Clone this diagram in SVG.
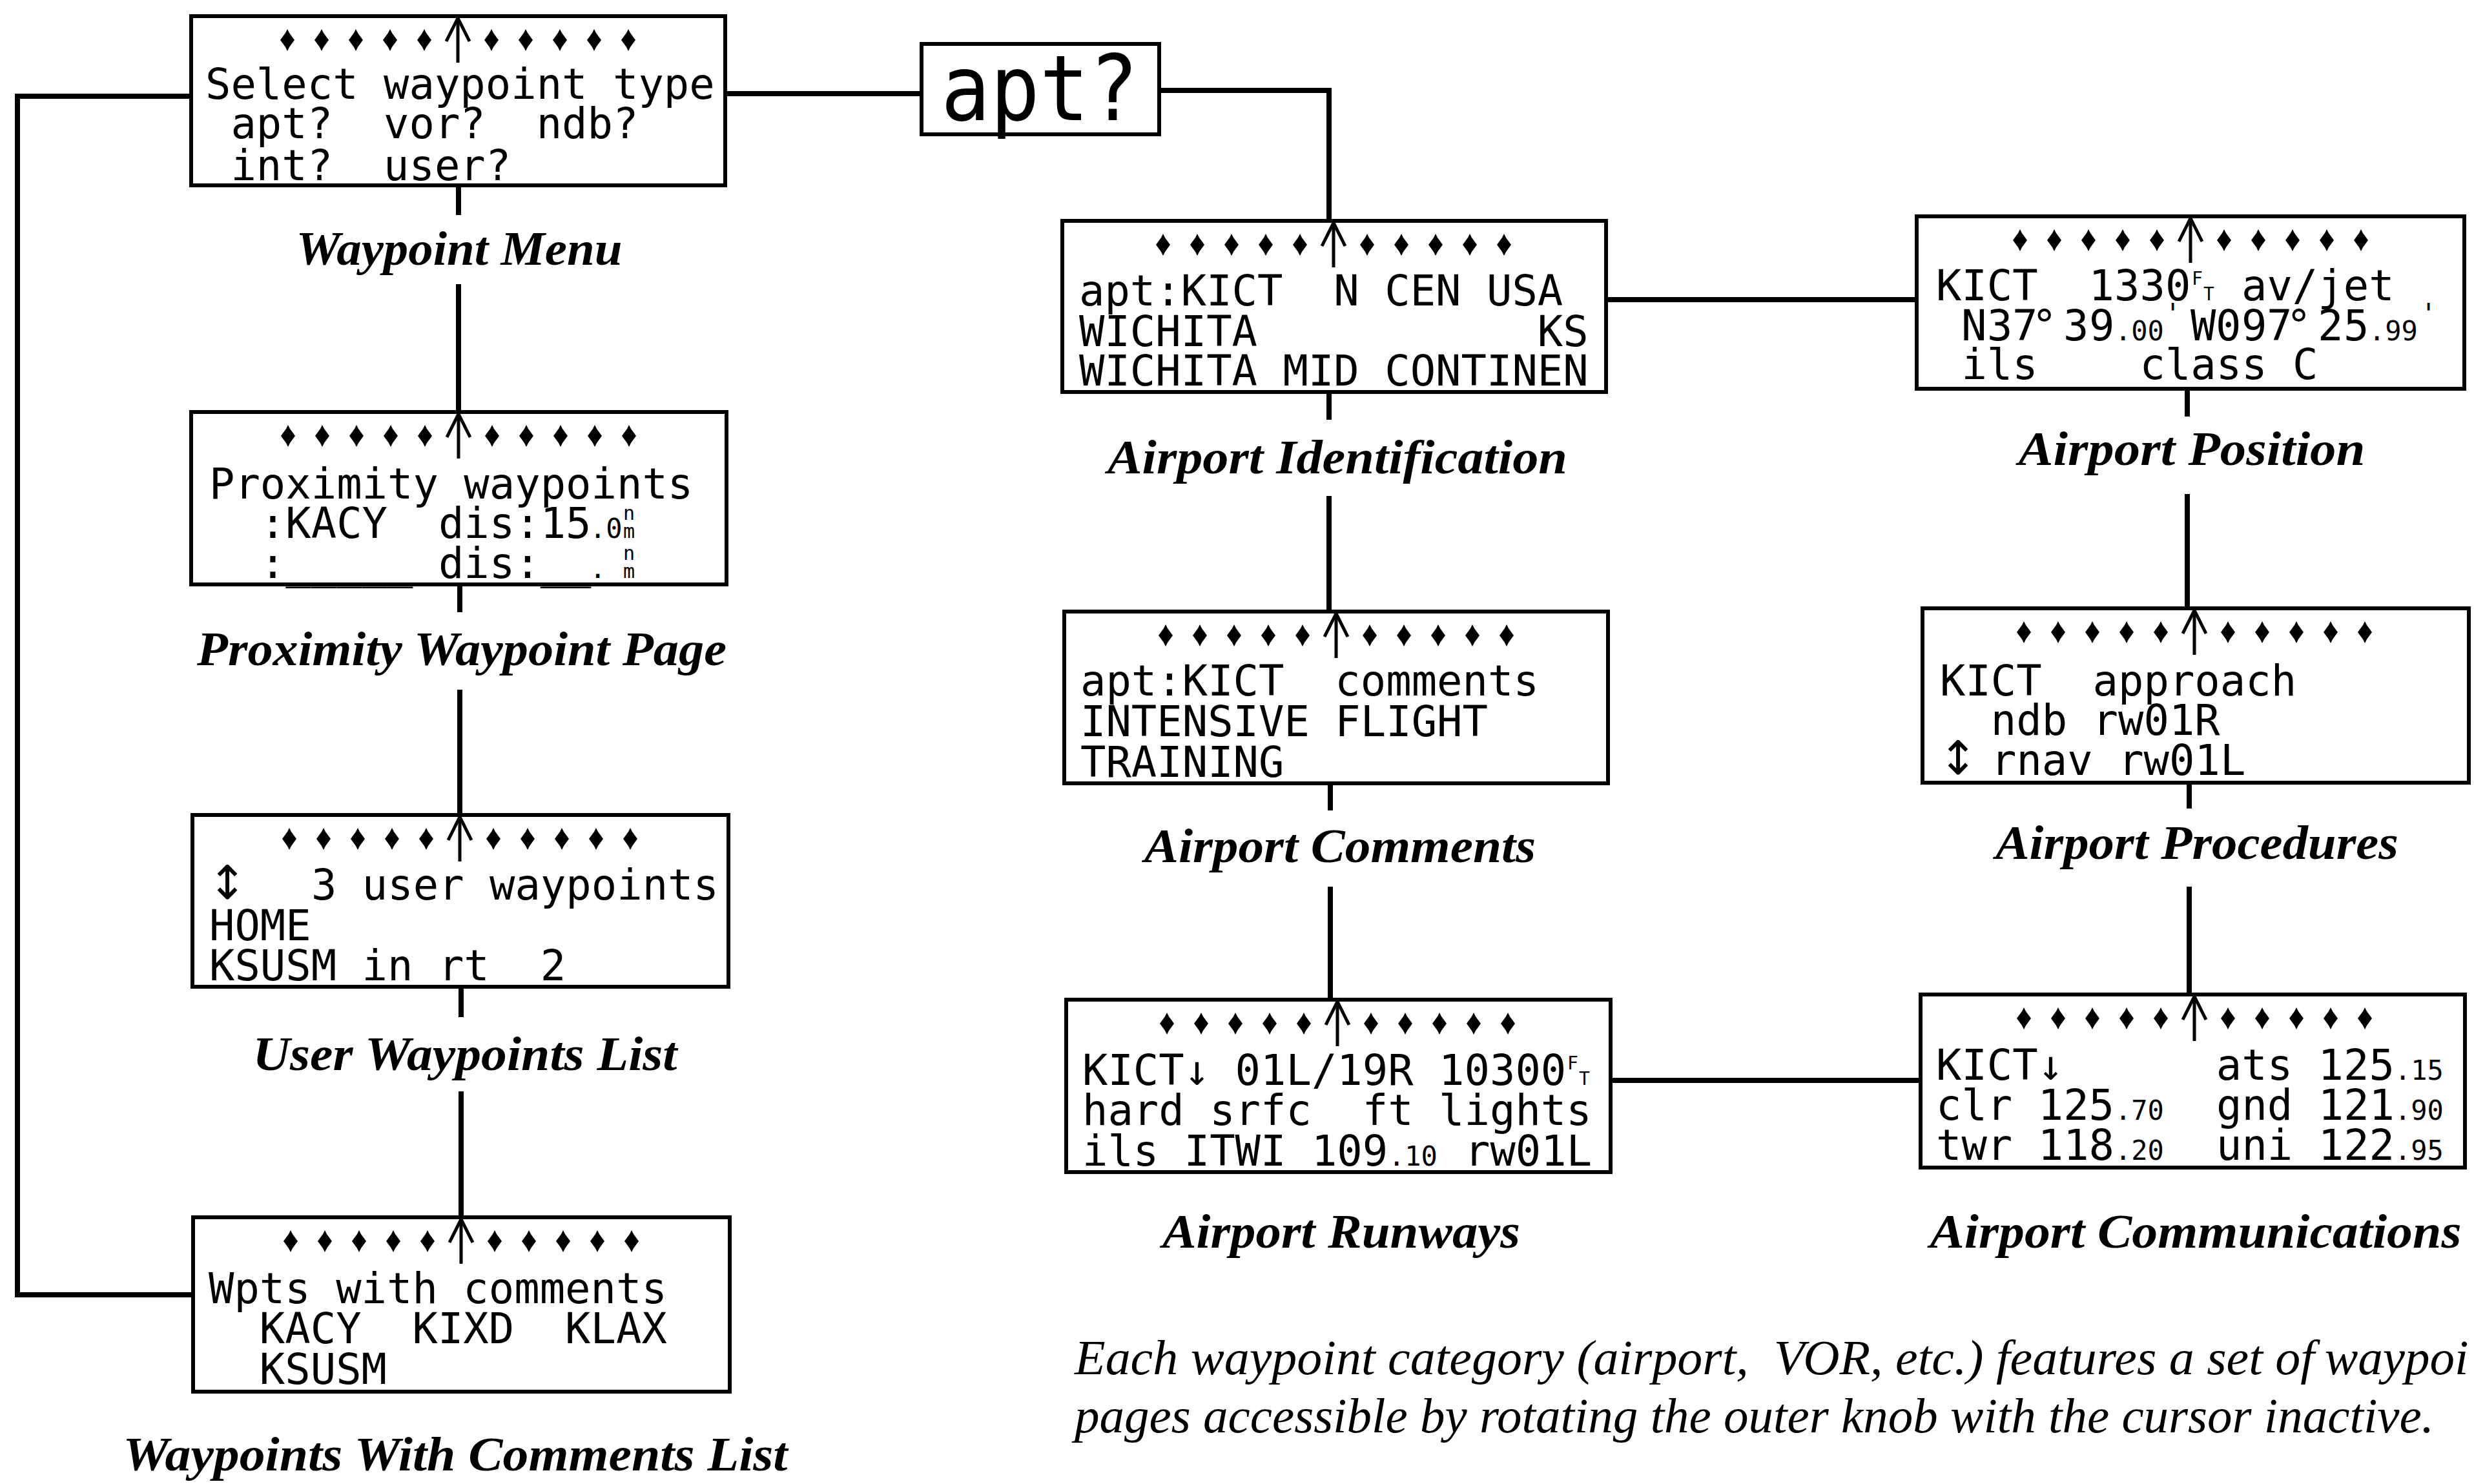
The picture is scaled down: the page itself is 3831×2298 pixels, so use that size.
<svg xmlns="http://www.w3.org/2000/svg" width="3831" height="2298" viewBox="0 0 3831 2298">
<style>
.box{fill:#fff;stroke:#000;stroke-width:6}
.con{fill:none;stroke:#000;stroke-width:8}
.lcd{font-family:"DejaVu Sans Mono","Liberation Mono",monospace;font-size:65.5px;fill:#000;white-space:pre}
.sm{font-size:42px}
.tiny{font-size:30px}
.ft{font-size:28px}
.ud{font-family:"DejaVu Sans","Liberation Sans",sans-serif;font-size:72px;fill:#000}
.big{font-family:"DejaVu Sans Mono","Liberation Mono",monospace;font-size:140px;fill:#000}
.lbl{font-family:"Liberation Serif","Times New Roman",serif;font-weight:bold;font-style:italic;font-size:74px;text-anchor:middle;fill:#000}
.cap{font-family:"Liberation Serif","Times New Roman",serif;font-style:italic;font-size:77px;fill:#000;white-space:pre}
.ah{fill:none;stroke:#000;stroke-width:5}
</style>
<defs>
<path id="dm" d="M0,-17 L3,-11 L11,0 L3,11 L0,17 L-3,11 L-11,0 L-3,-11 Z"/>
<g id="ind">
<use href="#dm" x="-264" y="37"/><use href="#dm" x="-211" y="37"/><use href="#dm" x="-158" y="37"/><use href="#dm" x="-105" y="37"/><use href="#dm" x="-52" y="37"/>
<use href="#dm" x="52" y="37"/><use href="#dm" x="105" y="37"/><use href="#dm" x="158" y="37"/><use href="#dm" x="211" y="37"/><use href="#dm" x="264" y="37"/>
<line class="ah" x1="0" y1="2" x2="0" y2="72"/>
<polyline class="ah" points="-18,39 0,3 18,39"/>
</g>
</defs>
<rect x="0" y="0" width="3831" height="2298" fill="#fff"/>

<g id="connectors">
<path class="con" d="M296,149 H27 V2005 H299"/>
<path class="con" d="M1123,145 H1427"/>
<path class="con" d="M1795,140 H2058 V342"/>
<path class="con" d="M2487,464 H2968"/>
<path class="con" d="M2494,1673 H2974"/>
<path class="con" d="M710,287 V333 M710,440 V638"/>
<path class="con" d="M712,905 V948 M712,1068 V1262"/>
<path class="con" d="M714,1528 V1575 M714,1690 V1885"/>
<path class="con" d="M2058,607 V650 M2058,768 V947"/>
<path class="con" d="M2060,1213 V1255 M2060,1373 V1548"/>
<path class="con" d="M3387,602 V645 M3387,765 V942"/>
<path class="con" d="M3390,1212 V1252 M3390,1373 V1540"/>
</g>

<g id="waypoint-menu">
<rect class="box" x="296" y="25" width="827" height="262"/>
<use href="#ind" x="709" y="25"/>
<text class="lcd" xml:space="preserve" x="318" y="153">Select waypoint type</text>
<text class="lcd" xml:space="preserve" x="318" y="214"> apt?  vor?  ndb?</text>
<text class="lcd" xml:space="preserve" x="318" y="279"> int?  user?</text>
<text class="lbl" x="711" y="410" textLength="505" lengthAdjust="spacingAndGlyphs">Waypoint Menu</text>
</g>

<g id="proximity-waypoint-page">
<rect class="box" x="296" y="638" width="829" height="267"/>
<use href="#ind" x="710" y="638"/>
<text class="lcd" xml:space="preserve" x="324" y="772">Proximity waypoints</text>
<text class="lcd" xml:space="preserve" x="324" y="833">  :KACY  dis:15</text>
<text class="lcd sm" x="913" y="833">.0</text>
<text class="lcd tiny" x="965" y="805">n</text>
<text class="lcd tiny" x="965" y="833">m</text>
<text class="lcd" xml:space="preserve" x="324" y="895">  :_____ dis:__</text>
<text class="lcd sm" x="913" y="895">._</text>
<text class="lcd tiny" x="965" y="867">n</text>
<text class="lcd tiny" x="965" y="895">m</text>
<text class="lbl" x="715" y="1030" textLength="820" lengthAdjust="spacingAndGlyphs">Proximity Waypoint Page</text>
</g>

<g id="user-waypoints-list">
<rect class="box" x="298" y="1262" width="830" height="266"/>
<use href="#ind" x="712" y="1262"/>
<text class="ud" x="322" y="1392">↕</text>
<text class="lcd" xml:space="preserve" x="482" y="1393">3 user waypoints</text>
<text class="lcd" xml:space="preserve" x="324" y="1456">HOME</text>
<text class="lcd" xml:space="preserve" x="324" y="1518">KSUSM in rt  2</text>
<text class="lbl" x="720" y="1657" textLength="657" lengthAdjust="spacingAndGlyphs">User Waypoints List</text>
</g>

<g id="waypoints-with-comments-list">
<rect class="box" x="299" y="1885" width="831" height="270"/>
<use href="#ind" x="714" y="1885"/>
<text class="lcd" xml:space="preserve" x="323" y="2018">Wpts with comments</text>
<text class="lcd" xml:space="preserve" x="323" y="2080">  KACY  KIXD  KLAX</text>
<text class="lcd" xml:space="preserve" x="323" y="2143">  KSUSM</text>
<text class="lbl" x="705" y="2277" textLength="1029" lengthAdjust="spacingAndGlyphs">Waypoints With Comments List</text>
</g>

<g id="apt-selection">
<rect class="box" x="1427" y="68" width="368" height="140"/>
<text class="big" x="1457" y="186" textLength="306" lengthAdjust="spacingAndGlyphs">apt?</text>
</g>

<g id="airport-identification">
<rect class="box" x="1645" y="342" width="842" height="265"/>
<use href="#ind" x="2065" y="342"/>
<text class="lcd" xml:space="preserve" x="1671" y="473">apt:KICT  N CEN USA</text>
<text class="lcd" xml:space="preserve" x="1671" y="536">WICHITA           KS</text>
<text class="lcd" xml:space="preserve" x="1671" y="597">WICHITA MID CONTINEN</text>
<text class="lbl" x="2071" y="733" textLength="712" lengthAdjust="spacingAndGlyphs">Airport Identification</text>
</g>

<g id="airport-comments">
<rect class="box" x="1648" y="947" width="842" height="266"/>
<use href="#ind" x="2069" y="947"/>
<text class="lcd" xml:space="preserve" x="1673" y="1077">apt:KICT  comments</text>
<text class="lcd" xml:space="preserve" x="1673" y="1140">INTENSIVE FLIGHT</text>
<text class="lcd" xml:space="preserve" x="1673" y="1203">TRAINING</text>
<text class="lbl" x="2075" y="1335" textLength="606" lengthAdjust="spacingAndGlyphs">Airport Comments</text>
</g>

<g id="airport-runways">
<rect class="box" x="1651" y="1548" width="843" height="267"/>
<use href="#ind" x="2071" y="1548"/>
<text class="lcd" xml:space="preserve" x="1676" y="1680">KICT↓ 01L/19R 10300</text>
<text class="lcd ft" x="2427" y="1656">F</text>
<text class="lcd ft" x="2445" y="1680">T</text>
<text class="lcd" xml:space="preserve" x="1676" y="1742">hard srfc  ft lights</text>
<text class="lcd" xml:space="preserve" x="1676" y="1805">ils ITWI 109</text>
<text class="lcd sm" x="2150" y="1805">.10</text>
<text class="lcd" xml:space="preserve" x="2268" y="1805">rw01L</text>
<text class="lbl" x="2077" y="1932" textLength="554" lengthAdjust="spacingAndGlyphs">Airport Runways</text>
</g>

<g id="airport-position">
<rect class="box" x="2968" y="335" width="848" height="267"/>
<use href="#ind" x="3392" y="335"/>
<text class="lcd" xml:space="preserve" x="2998" y="465">KICT  1330</text>
<text class="lcd ft" x="3394" y="441">F</text>
<text class="lcd ft" x="3412" y="465">T</text>
<text class="lcd" xml:space="preserve" x="3471" y="465">av/jet</text>
<text class="lcd" x="3037 3077 3116 3146 3195 3235" y="527">N37°39</text>
<text class="lcd sm" x="3275" y="527">.00</text>
<text class="lcd sm" x="3352" y="500">'</text>
<text class="lcd" x="3392 3431 3471 3510 3540 3589 3629" y="527">W097°25</text>
<text class="lcd sm" x="3668" y="527">.99</text>
<text class="lcd sm" x="3748" y="500">'</text>
<text class="lcd" xml:space="preserve" x="2998" y="587"> ils    class C</text>
<text class="lbl" x="3394" y="720" textLength="537" lengthAdjust="spacingAndGlyphs">Airport Position</text>
</g>

<g id="airport-procedures">
<rect class="box" x="2977" y="942" width="846" height="270"/>
<use href="#ind" x="3398" y="942"/>
<text class="lcd" xml:space="preserve" x="3004" y="1077">KICT  approach</text>
<text class="lcd" xml:space="preserve" x="3004" y="1138">  ndb rw01R</text>
<text class="ud" x="3002" y="1199">↕</text>
<text class="lcd" xml:space="preserve" x="3083" y="1200">rnav rw01L</text>
<text class="lbl" x="3402" y="1330" textLength="624" lengthAdjust="spacingAndGlyphs">Airport Procedures</text>
</g>

<g id="airport-communications">
<rect class="box" x="2974" y="1540" width="843" height="268"/>
<use href="#ind" x="3398" y="1540"/>
<text class="lcd" xml:space="preserve" x="2998" y="1672">KICT↓      ats 125</text>
<text class="lcd sm" x="3708" y="1672">.15</text>
<text class="lcd" xml:space="preserve" x="2998" y="1734">clr 125</text>
<text class="lcd sm" x="3275" y="1734">.70</text>
<text class="lcd" xml:space="preserve" x="3432" y="1734">gnd 121</text>
<text class="lcd sm" x="3708" y="1734">.90</text>
<text class="lcd" xml:space="preserve" x="2998" y="1796">twr 118</text>
<text class="lcd sm" x="3275" y="1796">.20</text>
<text class="lcd" xml:space="preserve" x="3432" y="1796">uni 122</text>
<text class="lcd sm" x="3708" y="1796">.95</text>
<text class="lbl" x="3400" y="1932" textLength="823" lengthAdjust="spacingAndGlyphs">Airport Communications</text>
</g>

<g id="caption">
<text class="cap" xml:space="preserve" x="1664" y="2128" textLength="1920" lengthAdjust="spacingAndGlyphs">Each waypoint category (airport,  VOR, etc.) features a set of</text>
<text class="cap" x="3600" y="2128">waypoi</text>
<text class="cap" x="1664" y="2218" textLength="2105" lengthAdjust="spacingAndGlyphs">pages accessible by rotating the outer knob with the cursor inactive.</text>
</g>
</svg>
